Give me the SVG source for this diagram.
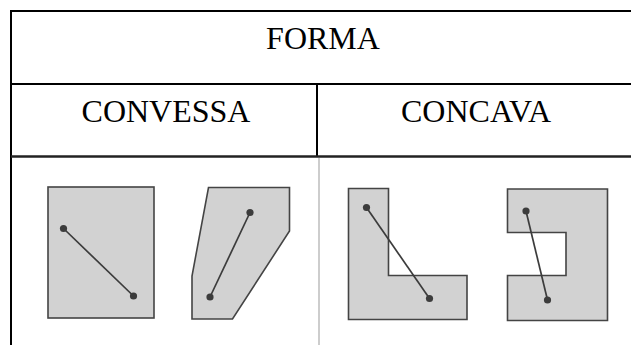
<svg xmlns="http://www.w3.org/2000/svg" width="631" height="345" viewBox="0 0 631 345">
<style>
.t{font-family:"Liberation Serif","Times New Roman",serif;font-size:32px;fill:#000;text-anchor:middle}
.b{stroke:#000;stroke-width:2;fill:none}
.s{fill:#d2d2d2;stroke:#444;stroke-width:1.6;stroke-linejoin:miter}
.l{stroke:#3c3c3c;stroke-width:1.7}
.d{fill:#3c3c3c}
</style>
<rect width="631" height="345" fill="#fff"/>
<g id="table">
<path class="b" d="M11 345 V11 H631"/>
<line class="b" x1="11" y1="84" x2="631" y2="84"/>
<line class="b" x1="317" y1="84" x2="317" y2="156"/>
<line x1="11" y1="156.5" x2="631" y2="156.5" stroke="#222" stroke-width="2.5"/>
<line x1="319" y1="158" x2="319" y2="345" stroke="#cdcdcd" stroke-width="2"/>
</g>
<g id="forma"><text class="t" x="323" y="49">FORMA</text></g>
<g id="convessa"><text class="t" x="166" y="121.7">CONVESSA</text></g>
<g id="concava"><text class="t" x="476" y="121.7">CONCAVA</text></g>
<g id="shape-rect">
<rect class="s" x="48" y="187" width="106" height="131"/>
<line class="l" x1="63.5" y1="228.5" x2="133.5" y2="296"/>
<circle class="d" cx="63.5" cy="228.5" r="3.6"/>
<circle class="d" cx="133.5" cy="296" r="3.6"/>
</g>
<g id="shape-poly">
<polygon class="s" points="208.5,187.5 289.5,187.5 289.5,231 232.5,319 192,319 192,276"/>
<line class="l" x1="250" y1="212.5" x2="210" y2="297"/>
<circle class="d" cx="250" cy="212.5" r="3.6"/>
<circle class="d" cx="210" cy="297" r="3.6"/>
</g>
<g id="shape-l">
<polygon class="s" points="348.5,188.5 388.5,188.5 388.5,275.5 467,275.5 467,319.5 348.5,319.5"/>
<line class="l" x1="366.5" y1="207.5" x2="429.5" y2="298.5"/>
<circle class="d" cx="366.5" cy="207.5" r="3.6"/>
<circle class="d" cx="429.5" cy="298.5" r="3.6"/>
</g>
<g id="shape-c">
<polygon class="s" points="507.5,189 607.5,189 607.5,320.5 507.5,320.5 507.5,275.5 566,275.5 566,232.5 507.5,232.5"/>
<line class="l" x1="526" y1="211" x2="547.5" y2="300"/>
<circle class="d" cx="526" cy="211" r="3.6"/>
<circle class="d" cx="547.5" cy="300" r="3.6"/>
</g>
</svg>
